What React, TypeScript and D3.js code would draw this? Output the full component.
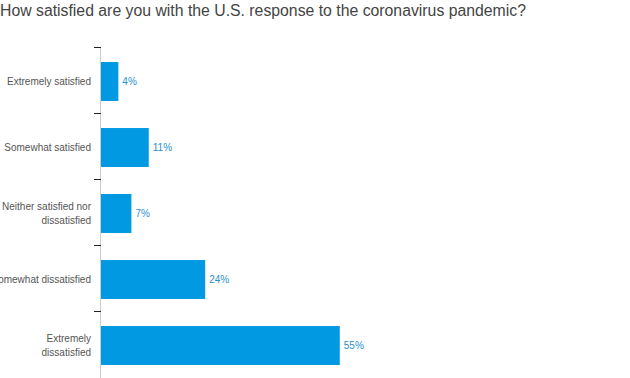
import React from "react";
import * as d3 from "d3";

const categories = [
  ["Extremely satisfied"],
  ["Somewhat satisfied"],
  ["Neither satisfied nor", "dissatisfied"],
  ["Somewhat dissatisfied"],
  ["Extremely", "dissatisfied"],
];
const values = [4, 11, 7, 24, 55];
const title = "How satisfied are you with the U.S. response to the coronavirus pandemic?";

export default function App() {
  const W = 630, H = 378;
  const x0 = 101;
  const x = d3.scaleLinear().domain([0, 120]).range([x0, x0 + 521]);
  const keys = categories.map((_, i) => String(i));
  const y = d3.scaleBand().domain(keys).range([48.5, 378.5]).paddingInner(0.41).paddingOuter(0.205);
  const step = y.step();
  const font = "'Liberation Sans', Arial, sans-serif";
  return (
    <svg width={W} height={H} style={{ position: "fixed", left: 0, top: 0, background: "#fff" }}>
      <text x={0} y={16} fontFamily={font} fontSize={15.8} fill="#444">{title}</text>
      <line x1={x0 - 0.5} x2={x0 - 0.5} y1={47} y2={378} stroke="#ccc" strokeWidth={1} />
      {keys.map((k, i) => {
        const top = 47 + i * step;
        return <line key={"t" + k} x1={94} x2={101} y1={top + 0.5} y2={top + 0.5} stroke="#222" strokeWidth={1} />;
      })}
      {keys.map((k, i) => {
        const by = y(k)!;
        const bh = y.bandwidth();
        const cy = by + bh / 2;
        const lines = categories[i];
        return (
          <g key={k}>
            <rect x={x(0)} y={by} width={x(values[i]) - x(0)} height={bh} fill="#0099e2" />
            <text x={x(values[i]) + 4} y={cy + 3.5} fontFamily={font} fontSize={10} fill="#2b8fcf">{values[i]}%</text>
            {lines.map((l, j) => (
              <text key={j} x={91} y={cy + 3.5 + (j - (lines.length - 1) / 2) * 14} textAnchor="end" fontFamily={font} fontSize={10} fill="#555">{l}</text>
            ))}
          </g>
        );
      })}
    </svg>
  );
}
